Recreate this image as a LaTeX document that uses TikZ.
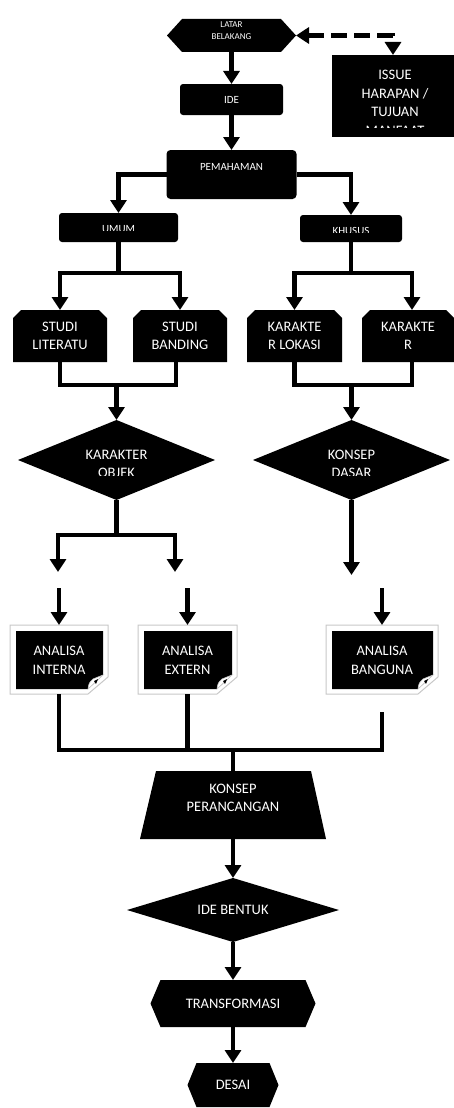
\documentclass[tikz,border=0pt]{standalone}
\usepackage{fontspec}
\setmainfont{Carlito}
\usetikzlibrary{arrows.meta}
\pgfdeclarelayer{bg}
\pgfsetlayers{bg,main}
\definecolor{docgray}{RGB}{200,200,200}
\newcommand{\shHexa}[2]{\fill (#1.west) -- ([xshift=#2]#1.north west) -- ([xshift=-#2]#1.north east) -- (#1.east) -- ([xshift=-#2]#1.south east) -- ([xshift=#2]#1.south west) -- cycle;}
\newcommand{\shChamf}[1]{\fill ([yshift=-8pt]#1.north west) -- ([xshift=8pt]#1.north west) -- ([xshift=-8pt]#1.north east) -- ([yshift=-8pt]#1.north east) -- (#1.south east) -- (#1.south west) -- cycle;}
\newcommand{\shDiam}[1]{\fill (#1.north) -- (#1.east) -- (#1.south) -- (#1.west) -- cycle;}
\newcommand{\shTrap}[1]{\fill ([xshift=16pt]#1.north west) -- ([xshift=-15pt]#1.north east) -- (#1.south east) -- (#1.south west) -- cycle;}
\newcommand{\shDoc}[1]{%
  \filldraw[fill=white, draw=docgray, line width=1pt] (#1.north west) -- (#1.north east) -- ([yshift=17pt]#1.south east) -- ([xshift=-20pt]#1.south east) -- (#1.south west) -- cycle;
  \fill ([xshift=6pt,yshift=-6pt]#1.north west) -- ([xshift=-5pt,yshift=-6pt]#1.north east) -- ([xshift=-5pt,yshift=19pt]#1.south east) -- ([xshift=-20pt,yshift=5pt]#1.south east) -- ([xshift=6pt,yshift=5pt]#1.south west) -- cycle;
  \filldraw[fill=white, draw=docgray, line width=0.6pt] ([xshift=-5pt,yshift=19pt]#1.south east) -- ([xshift=-20pt,yshift=5pt]#1.south east) .. controls ([xshift=-19pt,yshift=11pt]#1.south east) .. ([xshift=-15pt,yshift=15pt]#1.south east) -- cycle;
  \fill ([xshift=-14pt,yshift=13pt]#1.south east) -- ([xshift=-10pt,yshift=15pt]#1.south east) -- ([xshift=-12pt,yshift=10pt]#1.south east) -- cycle;}
\begin{document}
\begin{tikzpicture}[x=1pt,y=-1pt,
  shp/.style={inner sep=0pt, outer sep=0pt, text=white, align=center},
  sz/.style 2 args={minimum width=#1pt, minimum height=#2pt},
  txt/.style={inner sep=0pt, text=white, align=center},
  tnine/.style={font=\fontsize{9}{12}\selectfont},
  televen/.style={font=\fontsize{11}{13}\selectfont},
  tbig/.style={font=\fontsize{14.5}{18.5}\selectfont},
  tdia/.style={font=\fontsize{14.5}{18}\selectfont},
  ln/.style={line width=4.5pt},
  tip/.tip={Triangle[width=16pt,length=13pt]},
  arr/.style={ln, -tip},
  dasharr/.style={ln, dash pattern=on 16pt off 7pt, tip-tip}]
\useasboundingbox (0,0) rectangle (454,1108);

% nodes
\node[shp, sz={129}{33}, label={[txt,tnine,yshift=4.5pt]center:LATAR\\BELAKANG}] (latar) at (231.5,35.5) {};
\node[shp, sz={122}{82}, fill=black] (issue) at (393,96) {};
\node[shp, sz={103}{31}, fill=black, rounded corners=3pt, televen] (ide) at (231.5,99.5) {IDE};
\node[shp, sz={130}{49}, fill=black, rounded corners=4pt, label={[txt,televen,yshift=7.5pt]center:PEMAHAMAN}] (pem) at (231.5,174.5) {};
\node[shp, sz={119}{29}, fill=black, rounded corners=3pt] (umum) at (118.5,227.5) {};
\node[shp, sz={102}{27}, fill=black, rounded corners=3pt] (khusus) at (351,228.5) {};
\node[shp, sz={94}{52}, tbig] (studi1) at (60,336) {STUDI\\LITERATU};
\node[shp, sz={94}{52}, tbig] (studi2) at (180,336) {STUDI\\BANDING};
\node[shp, sz={95}{52}, tbig] (kar1) at (294.5,336) {KARAKTE\\R LOKASI};
\node[shp, sz={92}{52}, tbig] (kar2) at (408,336) {KARAKTE\\R};
\node[shp, sz={197}{80}] (kobj) at (116.5,460) {};
\node[shp, sz={197}{80}] (kdas) at (351.5,460) {};
\node[shp, sz={98}{69}] (int) at (59,659.5) {};
\node[shp, sz={99}{69}] (ext) at (187.5,659.5) {};
\node[shp, sz={112}{69}] (bang) at (382,659.5) {};
\node[shp, sz={186}{68}, label={[txt,tbig,yshift=7pt]center:KONSEP\\PERANCANGAN}] (trap) at (233,805) {};
\node[shp, sz={212}{64}, tbig] (ideb) at (233,910) {IDE BENTUK};
\node[shp, sz={165}{47}, tbig] (trans) at (233,1003.5) {TRANSFORMASI};
\node[shp, sz={91}{44}, tbig] (desai) at (233,1085) {DESAI};

% shapes behind the texts
\begin{pgfonlayer}{bg}
\fill[white] (0,0) rectangle (454,1108);
\shHexa{latar}{15pt}
\shChamf{studi1}
\shChamf{studi2}
\shChamf{kar1}
\shChamf{kar2}
\shDiam{kobj}
\shDiam{kdas}
\shDoc{int}
\shDoc{ext}
\shDoc{bang}
\shTrap{trap}
\shDiam{ideb}
\shHexa{trans}{10pt}
\shHexa{desai}{9pt}
\end{pgfonlayer}

% texts of the analysis documents
\node[txt, tbig] (tint) at ([yshift=-1pt]int.center) {ANALISA\\INTERNA};
\node[txt, tbig] (text) at ([yshift=-1pt]ext.center) {ANALISA\\EXTERN};
\node[txt, tbig] (tbang) at ([yshift=-1pt]bang.center) {ANALISA\\BANGUNA};

% clipped texts
\begin{scope}
\clip (issue.north west) rectangle ([yshift=10pt]issue.south east);
\node[txt, tbig] (tissue) at (395,103) {ISSUE\\HARAPAN /\\TUJUAN\\MANFAAT};
\end{scope}
\begin{scope}
\clip (umum.north west) rectangle ([yshift=-3pt]umum.east);
\node[txt, televen] (tumum) at ([yshift=-2pt]umum.center) {UMUM};
\end{scope}
\begin{scope}
\clip (khusus.north west) rectangle ([yshift=-3.5pt]khusus.east);
\node[txt, televen] (tkhusus) at ([yshift=-2pt]khusus.center) {KHUSUS};
\end{scope}
\begin{scope}
\clip (kobj.north west) rectangle ([yshift=-15.5pt]kobj.east);
\node[txt, tdia] (tkobj) at ([yshift=-4pt]kobj.center) {KARAKTER\\OBJEK};
\end{scope}
\begin{scope}
\clip (kdas.north west) rectangle ([yshift=-15.5pt]kdas.east);
\node[txt, tdia] (tkdas) at ([yshift=-4pt]kdas.center) {KONSEP\\DASAR};
\end{scope}

% coordinates
\coordinate (ju) at (umum.south |- 0,273);
\coordinate (jk) at (khusus.south |- 0,273);
\coordinate (kr2) at ([xshift=4pt]kar2.north);
\coordinate (s2b) at ([xshift=-4pt]studi2.south);
\coordinate (k2b) at ([xshift=4pt]kar2.south);
\coordinate (js) at (kobj.north |- 0,385);
\coordinate (jd) at (kdas.north |- 0,385);
\coordinate (jo) at (kobj.south |- 0,535);
\coordinate (t1) at (58,572);
\coordinate (t2) at (175,572);
\coordinate (t3) at (kdas.south |- 0,575);
\coordinate (u1) at (int.north |- 0,588);
\coordinate (u2) at (ext.north |- 0,588);
\coordinate (u3) at (bang.north |- 0,588);
\coordinate (b3) at ([yshift=-18pt]bang.south);

% connectors
\draw[dasharr] (latar.east) -| (issue.north);
\draw[arr] (latar.south) -- (ide.north);
\draw[arr] (ide.south) -- (pem.north);
\draw[arr] (pem.west) -| (umum.north);
\draw[arr] (pem.east) -| (khusus.north);
\draw[ln] (umum.south) -- (ju);
\draw[arr] (ju) -| (studi1.north);
\draw[arr] (ju) -| (studi2.north);
\draw[ln] (khusus.south) -- (jk);
\draw[arr] (jk) -| (kar1.north);
\draw[arr] (jk) -| (kr2);
\draw[ln] (studi1.south) |- (s2b |- 0,385) -- (s2b);
\draw[arr] (js) -- (kobj.north);
\draw[ln] (kar1.south) |- (k2b |- 0,385) -- (k2b);
\draw[arr] (jd) -- (kdas.north);
\draw[ln] (kobj.south) -- (jo);
\draw[arr] (jo) -| (t1);
\draw[arr] (jo) -| (t2);
\draw[arr] (kdas.south) -- (t3);
\draw[arr] (u1) -- (int.north);
\draw[arr] (u2) -- (ext.north);
\draw[arr] (u3) -- (bang.north);
\draw[ln] (int.south) |- (b3 |- 0,750) -- (b3);
\draw[ln] (ext.south) -- (ext.south |- 0,750);
\draw[ln] (trap.north |- 0,750) -- (trap.north);
\draw[arr] (trap.south) -- (ideb.north);
\draw[arr] (ideb.south) -- (trans.north);
\draw[arr] (trans.south) -- (desai.north);
\end{tikzpicture}
\end{document}
